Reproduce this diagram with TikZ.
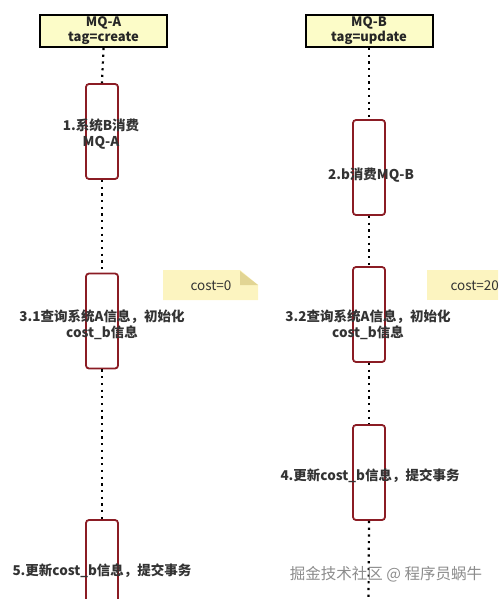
\documentclass[tikz,border=0pt]{standalone}
\usepackage{fontspec}
\setmainfont{Noto Sans CJK SC}
\usepackage{tikz}
\usetikzlibrary{positioning}
\definecolor{headfill}{HTML}{FCFCC8}
\definecolor{actred}{HTML}{8B1C24}
\definecolor{notefill}{HTML}{FCF4C0}
\definecolor{notefold}{HTML}{E2D594}
\definecolor{txt}{HTML}{333333}

\begin{document}
\begin{tikzpicture}[x=1pt, y=-1pt,
      head/.style={rectangle, draw=black, line width=2pt, fill=headfill,
                   minimum width=127pt, minimum height=32pt, inner sep=0pt,
                   align=center, font=\fontsize{13}{15}\selectfont\bfseries,
                   text=black!85},
      act/.style={rectangle, draw=actred, line width=1.8pt, fill=white,
                  rounded corners=3pt, minimum width=32pt, minimum height=95pt},
      lbl/.style={align=center, text=txt,
                  font=\fontsize{13.5}{16}\selectfont\bfseries},
      lifeline/.style={line width=2.2pt, dash pattern=on 2.2pt off 4.5pt},
      notetxt/.style={text=txt, font=\fontsize{13.5}{15}\selectfont}]
    \useasboundingbox (0,0) rectangle (498,599);
    \clip (0,0) rectangle (498,599);
    % queue heads
    \node[head] (mqa) at (103.5, 31) {MQ-A\\tag=create};
    \node[head] (mqb) at (369, 31) {MQ-B\\tag=update};
    % activations
    \node[act] (a1)  at (102, 131.5) {};
    \node[act] (a2)  at (369, 167.5) {};
    \node[act] (a31) at (102, 321) {};
    \node[act] (a32) at (369, 314.5) {};
    \node[act] (a4)  at (369, 472.5) {};
    \node[act] (a5)  at (102, 567.5) {};
    \coordinate (enda) at (102, 599);
    \coordinate (endb) at (368.5, 599);
    % lifelines
    \draw[lifeline] (mqa.south) -- (a1.north);
    \draw[lifeline] (a1.south) -- (a31.north);
    \draw[lifeline] (a31.south) -- (a5.north);
    \draw[lifeline] (mqb.south) -- (a2.north);
    \draw[lifeline] (a2.south) -- (a32.north);
    \draw[lifeline] (a32.south) -- (a4.north);
    \draw[lifeline] (a4.south) -- (endb);
    % step labels
    \node[lbl] (l1)  at (101, 134) {1.系统B消费\\MQ-A};
    \node[lbl] (l2)  at (371, 175) {2.b消费MQ-B};
    \node[lbl] (l31) at (102, 325) {3.1查询系统A信息，初始化\\cost\_b信息};
    \node[lbl] (l32) at (368, 325) {3.2查询系统A信息，初始化\\cost\_b信息};
    \node[lbl] (l4)  at (370, 476) {4.更新cost\_b信息，提交事务};
    \node[lbl] (l5)  at (102, 571) {5.更新cost\_b信息，提交事务};
    % notes
    \fill[notefill] (163,270) -- (240,270) -- (258,285) -- (258,300) -- (163,300) -- cycle;
    \fill[notefold] (240,271) -- (258,285) -- (240,285) -- cycle;
    \node[notetxt] (n0) at (211, 286) {cost=0};
    \fill[notefill] (427,270) rectangle (520,300);
    \node[notetxt, anchor=west] (n20) at (447, 286) {cost=20};
    % watermark
    \node[text=black!45, font=\fontsize{15.5}{17}\selectfont] (wm) at (386, 574)
      {掘金技术社区 @ 程序员蜗牛};
  \end{tikzpicture}
\end{document}
